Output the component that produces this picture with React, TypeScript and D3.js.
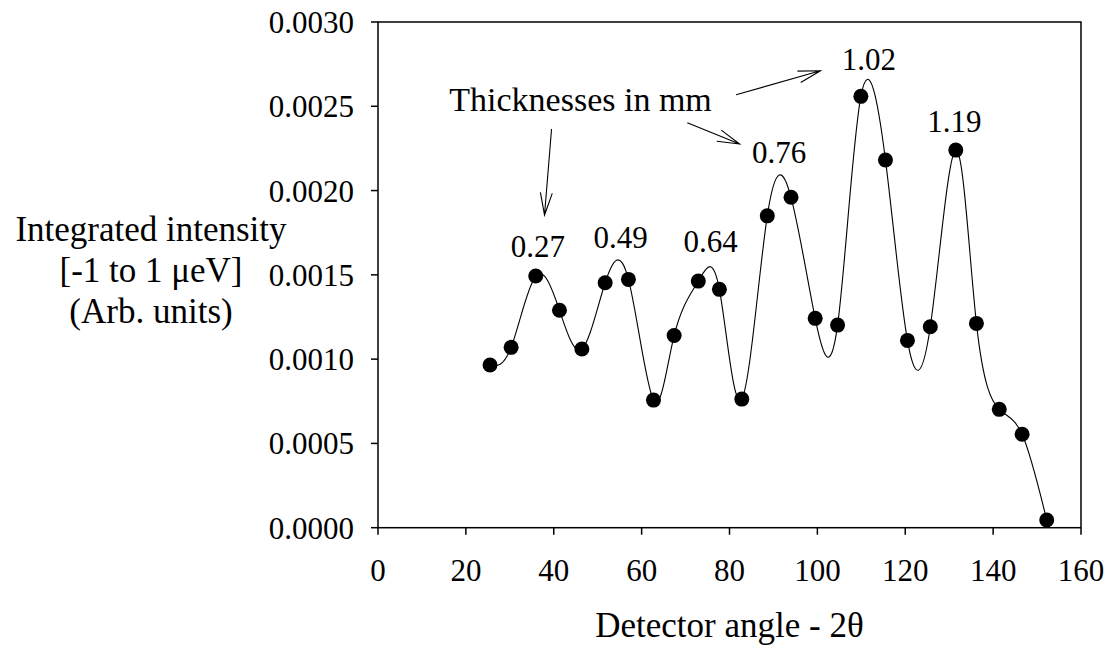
import React from "react";
import * as d3 from "d3";

const angles = [25.5, 30.3, 35.9, 41.3, 46.4, 51.7, 57.0, 62.7, 67.4, 72.9, 77.7, 82.8, 88.6, 94.0, 99.5, 104.6, 109.9, 115.5, 120.5, 125.7, 131.5, 136.2, 141.4, 146.6, 152.2];
const intensity = [0.000965, 0.00107, 0.001493, 0.00129, 0.00106, 0.001453, 0.001473, 0.000757, 0.00114, 0.001463, 0.001414, 0.000763, 0.00185, 0.00196, 0.001242, 0.001202, 0.002559, 0.002181, 0.001111, 0.001192, 0.00224, 0.001212, 0.000702, 0.000554, 0.0000457];

const xTicks = [0, 20, 40, 60, 80, 100, 120, 140, 160];
const yTicks = [0, 0.0005, 0.001, 0.0015, 0.002, 0.0025, 0.003];

const thicknessLabels = ["0.27", "0.49", "0.64", "0.76", "1.02", "1.19"];
const thicknessX = [36.4, 55.2, 75.7, 91.3, 111.7, 131.2];
const thicknessY = [0.001605, 0.001657, 0.001633, 0.002161, 0.002715, 0.002349];

const noteText = "Thicknesses in mm";
const noteAt = [46.1, 0.00247];
// arrows: [x1, y1, x2, y2] in data units
const arrows = [
  [39.5, 0.002365, 37.9, 0.001855],
  [70.4, 0.002402, 82.3, 0.002276],
  [81.5, 0.002568, 100.7, 0.002711],
];

const yTitle = ["Integrated intensity", "[-1 to 1 \u03bceV]", "(Arb. units)"];
const xTitle = "Detector angle - 2\u03b8";

const W = 1111, H = 648;
const L = 378, R = 1081, T = 22, B = 527.7;
const FONT = "Liberation Serif, DejaVu Serif, serif";

export default function App() {
  const x = d3.scaleLinear().domain([0, 160]).range([L, R]);
  const y = d3.scaleLinear().domain([0, 0.003]).range([B, T]);
  const pts: [number, number][] = angles.map((a, i) => [x(a), y(intensity[i])]);
  const line = d3.line().curve(d3.curveNatural)(pts) || "";

  const arrowPath = (a: number[]) => {
    const x1 = x(a[0]), y1 = y(a[1]), x2 = x(a[2]), y2 = y(a[3]);
    const ang = Math.atan2(y2 - y1, x2 - x1);
    const len = 23, spread = (15 * Math.PI) / 180;
    const h1x = x2 - len * Math.cos(ang - spread), h1y = y2 - len * Math.sin(ang - spread);
    const h2x = x2 - len * Math.cos(ang + spread), h2y = y2 - len * Math.sin(ang + spread);
    return `M${x1},${y1}L${x2},${y2}M${h1x},${h1y}L${x2},${y2}L${h2x},${h2y}`;
  };

  const ts = (size: number) => ({ fontFamily: FONT, fontSize: size + "px" });

  return (
    <svg width={W} height={H} style={{ position: "absolute", left: 0, top: 0, background: "#fff" }}>
      <rect x={0} y={0} width={W} height={H} fill="#fff" />
      {/* frame */}
      <rect x={L} y={T} width={R - L} height={B - T} fill="none" stroke="#000" strokeWidth={1.5} />
      {/* x ticks */}
      {xTicks.map((t) => (
        <g key={"xt" + t}>
          <line x1={x(t)} x2={x(t)} y1={B} y2={B + 7} stroke="#000" strokeWidth={1.5} />
          <text x={x(t)} y={B + 53} textAnchor="middle" style={ts(31)} fill="#000">{t}</text>
        </g>
      ))}
      {yTicks.map((t) => (
        <g key={"yt" + t}>
          <line x1={L - 7} x2={L} y1={y(t)} y2={y(t)} stroke="#000" strokeWidth={1.5} />
          <text x={L - 24} y={y(t) + 11} textAnchor="end" style={ts(31)} fill="#000">{t.toFixed(4)}</text>
        </g>
      ))}
      {/* curve */}
      <path d={line} fill="none" stroke="#000" strokeWidth={1.1} />
      {pts.map((p, i) => (
        <circle key={"p" + i} cx={p[0]} cy={p[1]} r={7.5} fill="#000" />
      ))}
      {/* annotations */}
      {thicknessLabels.map((s, i) => (
        <text key={"tl" + i} x={x(thicknessX[i])} y={y(thicknessY[i])} textAnchor="middle" style={ts(31)} fill="#000">{s}</text>
      ))}
      <text x={x(noteAt[0])} y={y(noteAt[1])} textAnchor="middle" style={ts(34)} fill="#000">{noteText}</text>
      {arrows.map((a, i) => (
        <path key={"ar" + i} d={arrowPath(a)} fill="none" stroke="#000" strokeWidth={1.1} />
      ))}
      {/* axis titles */}
      <text x={(L + R) / 2} y={637} textAnchor="middle" style={ts(35)} fill="#000">{xTitle}</text>
      {yTitle.map((s, i) => (
        <text key={"yl" + i} x={151} y={241 + i * 41} textAnchor="middle" style={ts(35)} fill="#000">{s}</text>
      ))}
    </svg>
  );
}
